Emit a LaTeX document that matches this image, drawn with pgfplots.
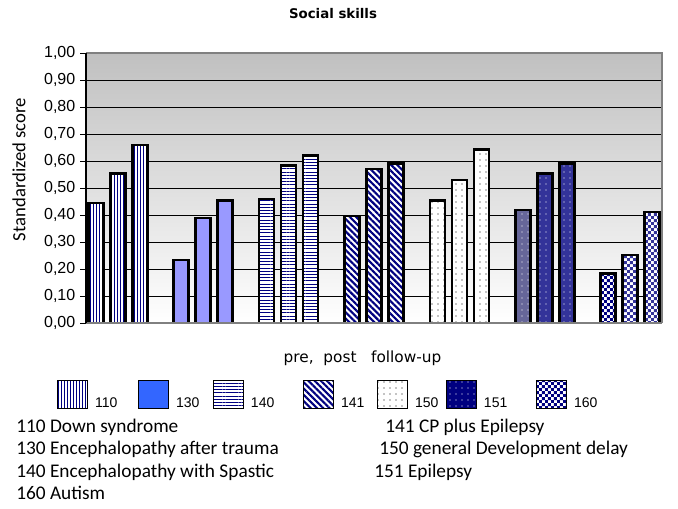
\documentclass[border=0pt]{standalone}
\usepackage{fontspec}
\setmainfont{Liberation Sans}
\newfontfamily\calib{Carlito}
\newfontfamily\dejavu{DejaVu Sans}
\usepackage{pgfplots}
\pgfplotsset{compat=1.18}
\usetikzlibrary{patterns,patterns.meta}

\definecolor{navy}{HTML}{000080}
\definecolor{periw}{HTML}{9999FF}
\definecolor{leg130}{HTML}{3366FF}
\definecolor{epiA}{HTML}{666699}
\definecolor{epiB}{HTML}{333399}
\definecolor{bgtop}{HTML}{C0C0C0}
\definecolor{framegray}{HTML}{808080}

% small checkerboard, 2.2pt squares
\pgfdeclarepatternformonly{finechecker}{\pgfqpoint{0pt}{0pt}}{\pgfqpoint{4.4pt}{4.4pt}}{\pgfqpoint{4.4pt}{4.4pt}}{%
  \pgfpathrectangle{\pgfqpoint{0pt}{0pt}}{\pgfqpoint{2.2pt}{2.2pt}}%
  \pgfpathrectangle{\pgfqpoint{2.2pt}{2.2pt}}{\pgfqpoint{2.2pt}{2.2pt}}%
  \pgfusepath{fill}}

\pgfplotsset{
  bars/.style={ybar, bar width=11.25pt, bar shift=0pt, draw=black, line width=1.9pt, forget plot},
  boxlegend/.style={legend image code/.code={\draw[##1] (0pt,-3.5pt) rectangle (22.5pt,17.5pt);}},
  vlines/.style={preaction={fill=white}, pattern={Lines[angle=90,distance=2.2pt,line width=0.7pt]}, pattern color=navy},
  hlines/.style={preaction={fill=white}, pattern={Lines[distance=2.4pt,line width=0.7pt]}, pattern color=navy},
  dlines/.style={preaction={fill=white}, pattern={Lines[angle=-45,distance=3.3pt,line width=1.6pt]}, pattern color=navy},
  sdots/.style={preaction={fill=white}, pattern={Dots[distance=4.5pt,radius=0.4pt]}, pattern color=black},
  wdots/.style={preaction={fill=#1}, pattern={Dots[distance=4.5pt,radius=0.5pt]}, pattern color=white},
  checks/.style={preaction={fill=white}, pattern=finechecker, pattern color=#1},
}

\begin{document}
\begin{tikzpicture}
\useasboundingbox (0pt,0pt) rectangle (508.5pt,-381pt);
\begin{axis}[
  at={(64.5pt,-242.25pt)}, anchor=south west,
  scale only axis, width=432pt, height=202.5pt,
  xmin=-0.373, xmax=6.373, ymin=0, ymax=1,
  xtick=\empty,
  ytick={0,0.1,0.2,0.3,0.4,0.5,0.6,0.7,0.8,0.9,1},
  ytick pos=left,
  tick align=outside, major tick length=4.5pt,
  tick style={black, line width=0.75pt},
  ymajorgrids, grid style={black, line width=0.75pt},
  axis line style={draw=none},
  axis background/.style={shade, top color=bgtop, bottom color=white},
  yticklabel style={font=\fontsize{12}{14}\selectfont,
    /pgf/number format/.cd, fixed, fixed zerofill, precision=2, use comma, assume math mode=true},
  clip=false,
  legend columns=7,
  legend style={draw=none, fill=none, inner sep=0pt, outer sep=0pt,
    at={(-0.0503,-0.2111)}, anchor=north west,
    font=\fontsize{10.5}{12}\selectfont, nodes={inner sep=0pt},
    /tikz/every odd column/.append style={column sep=5.25pt},
    /tikz/every even column/.append style={column sep=0pt}},
]
% 110 Down syndrome
\addplot[bars, vlines] coordinates {(-0.2576,0.444) (0,0.554) (0.2576,0.659)};
% 130 Encephalopathy after trauma
\addplot[bars, fill=periw] coordinates {(0.7424,0.234) (1,0.389) (1.2576,0.453)};
% 140 Encephalopathy with Spastic
\addplot[bars, hlines] coordinates {(1.7424,0.459) (2,0.584) (2.2576,0.620)};
% 141 CP plus Epilepsy
\addplot[bars, dlines] coordinates {(2.7424,0.396) (3,0.571) (3.2576,0.590)};
% 150 general Development delay
\addplot[bars, sdots] coordinates {(3.7424,0.453) (4,0.530) (4.2576,0.642)};
% 151 Epilepsy
\addplot[bars, wdots=epiA] coordinates {(4.7424,0.418)};
\addplot[bars, wdots=epiB] coordinates {(5,0.553) (5.2576,0.590)};
% 160 Autism
\addplot[bars, checks=navy] coordinates {(5.7424,0.183)};
\addplot[bars, checks=epiB] coordinates {(6,0.252) (6.2576,0.412)};

\draw[framegray, line width=1.5pt] (rel axis cs:0,1) -- (rel axis cs:1,1) -- (rel axis cs:1,0);
\draw[framegray, line width=2.2pt] (rel axis cs:0,0) -- (rel axis cs:1,0);
\draw[black, line width=1pt] (rel axis cs:0,0) -- (rel axis cs:0,1);

\addlegendimage{boxlegend, draw=black, line width=0.75pt, vlines}
\addlegendentry{110\hspace*{15.5pt}}
\addlegendimage{boxlegend, draw=black, line width=0.75pt, fill=leg130}
\addlegendentry{130\hspace*{10.2pt}}
\addlegendimage{boxlegend, draw=black, line width=0.75pt, hlines}
\addlegendentry{140\hspace*{21.5pt}}
\addlegendimage{boxlegend, draw=black, line width=0.75pt, dlines}
\addlegendentry{141\hspace*{9.5pt}}
\addlegendimage{boxlegend, draw=black, line width=0.75pt, sdots}
\addlegendentry{150\hspace*{5.7pt}}
\addlegendimage{boxlegend, draw=black, line width=0.75pt, wdots=navy}
\addlegendentry{151\hspace*{21.5pt}}
\addlegendimage{boxlegend, draw=black, line width=0.75pt, checks=navy}
\addlegendentry{160}
\end{axis}

\node[font=\dejavu\bfseries\fontsize{10}{12}\selectfont, inner sep=0pt] at (249.75pt,-10.5pt) {Social skills};
\node[font=\dejavu\fontsize{11.5}{13}\selectfont, inner sep=0pt] at (271.9pt,-268.7pt) {pre,\ \ post\ \ \ follow-up};
\node[rotate=90, anchor=base, font=\calib\fontsize{14}{16}\selectfont, inner sep=0pt] at (19.1pt,-127.1pt) {Standardized score};

\begin{scope}[every node/.style={anchor=base west, inner sep=0pt, font=\calib\fontsize{14.5}{16}\selectfont}]
\node at (12pt,-324pt) {110 Down syndrome};
\node at (12pt,-340.5pt) {130 Encephalopathy after trauma};
\node at (12pt,-357.75pt) {140 Encephalopathy with Spastic};
\node at (12pt,-374.25pt) {160 Autism};
\node at (288.75pt,-324pt) {141 CP plus Epilepsy};
\node at (284.25pt,-340.5pt) {150 general Development delay};
\node at (280.5pt,-357.75pt) {151 Epilepsy};
\end{scope}
\end{tikzpicture}
\end{document}
